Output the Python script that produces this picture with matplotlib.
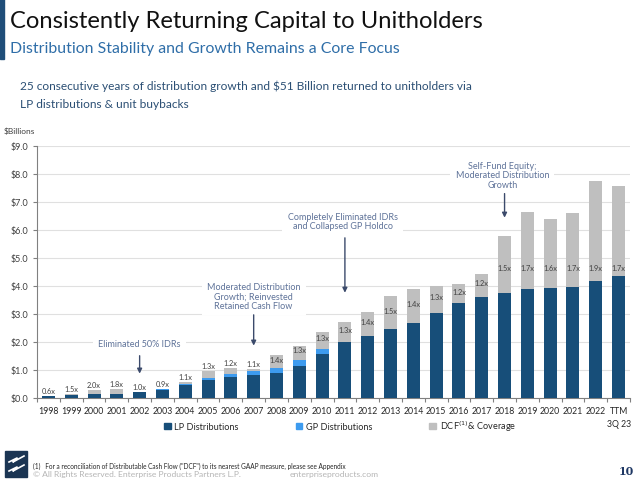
import matplotlib
matplotlib.use("Agg")
import matplotlib.pyplot as plt
from matplotlib.patches import Patch, Rectangle
import numpy as np

plt.rcParams['font.family'] = ['Lato', 'DejaVu Sans']

# ---- data ($ billions) ----
years = ['1998', '1999', '2000', '2001', '2002', '2003', '2004', '2005', '2006',
         '2007', '2008', '2009', '2010', '2011', '2012', '2013', '2014', '2015',
         '2016', '2017', '2018', '2019', '2020', '2021', '2022', 'TTM\n3Q 23']
lp = [0.06, 0.11, 0.13, 0.15, 0.21, 0.29, 0.46, 0.63, 0.76, 0.83, 0.90, 1.16, 1.57,
      2.00, 2.21, 2.45, 2.68, 3.02, 3.38, 3.62, 3.76, 3.88, 3.93, 3.98, 4.17, 4.34]
gp = [0.00, 0.01, 0.01, 0.01, 0.01, 0.02, 0.04, 0.10, 0.11, 0.13, 0.16, 0.20, 0.19,
      0.00, 0.00, 0.00, 0.00, 0.00, 0.00, 0.00, 0.00, 0.00, 0.00, 0.00, 0.00, 0.00]
dcf = [0.06, 0.15, 0.30, 0.31, 0.22, 0.33, 0.56, 0.95, 1.08, 1.03, 1.52, 1.87, 2.36,
       2.71, 3.07, 3.63, 3.89, 4.00, 4.06, 4.43, 5.80, 6.63, 6.40, 6.62, 7.75, 7.56]
coverage = ['0.6x', '1.5x', '2.0x', '1.8x', '1.0x', '0.9x', '1.1x', '1.3x', '1.2x',
            '1.1x', '1.4x', '1.3x', '1.3x', '1.3x', '1.4x', '1.5x', '1.4x', '1.3x',
            '1.2x', '1.2x', '1.5x', '1.7x', '1.6x', '1.7x', '1.9x', '1.7x']

notes = [
    ('Eliminated 50% IDRs', 4, 1.94, 1.51, 0.87),
    ('Moderated Distribution\nGrowth; Reinvested\nRetained Cash Flow', 9, 3.65, 2.97, 1.87),
    ('Completely Eliminated IDRs\nand Collapsed GP Holdco', 12.9, 6.31, 5.72, 3.76),
    ('Self-Fund Equity;\nModerated Distribution\nGrowth', 19.9, 7.97, 7.30, 6.44),
]

c_lp = '#174e79'
c_gp = '#3d9bef'
c_dcf = '#bfbfbf'
c_note = '#5f7399'

lp = np.array(lp)
gp = np.array(gp)
dcf = np.array(dcf)
rest = np.clip(dcf - lp - gp, 0, None)
x = np.arange(len(years))

fig = plt.figure(figsize=(6.4, 4.81), dpi=100)

# header
fig.patches.append(Rectangle((0, 1 - 60 / 481), 4 / 640, 60 / 481,
                             transform=fig.transFigure, color='#1f4e79'))
fig.text(10 / 640, 1 - 21 / 481, 'Consistently Returning Capital to Unitholders',
         fontsize=17.1, color='#111111', va='center')
fig.text(10 / 640, 1 - 49 / 481, 'Distribution Stability and Growth Remains a Core Focus',
         fontsize=11.4, color='#2f6ea8', va='center')
fig.text(20 / 640, 1 - 86 / 481,
         '25 consecutive years of distribution growth and $51 Billion returned to unitholders via',
         fontsize=8.6, color='#2b4f74', va='center')
fig.text(20 / 640, 1 - 104 / 481, 'LP distributions & unit buybacks',
         fontsize=8.6, color='#2b4f74', va='center')
fig.text(4 / 640, 1 - 131 / 481, '$Billions', fontsize=6, color='#404040', va='center')

ax = fig.add_axes([37 / 640, 1 - 399 / 481, 593 / 640, 252 / 481])
w = 0.57
ax.bar(x, lp, w, color=c_lp, zorder=3, label='LP Distributions')
ax.bar(x, gp, w, bottom=lp, color=c_gp, zorder=3, label='GP Distributions')
ax.bar(x, rest, w, bottom=lp + gp, color=c_dcf, zorder=3, label='DCF$^{(1)}$& Coverage')

for i in range(len(x)):
    top = lp[i] + gp[i] + rest[i]
    if i < 10:
        ax.text(x[i], top + 0.07, coverage[i], ha='center', va='bottom',
                fontsize=5.3, color='#404040', zorder=4)
    else:
        mid = (lp[i] + gp[i] + top) / 2
        yl = min(top - 0.15, mid + 0.1, 4.65)
        ax.text(x[i], yl, coverage[i], ha='center', va='center',
                fontsize=5.3, color='#404040', zorder=4)

for txt, xn, yt, y0, y1 in notes:
    ax.text(xn, yt, txt, ha='center', va='center', fontsize=6.5, color=c_note,
            linespacing=1.05, zorder=5,
            bbox=dict(boxstyle='square,pad=0.6', fc='white', ec='none'))
    ax.annotate('', xy=(round(xn), y1), xytext=(round(xn), y0), zorder=5,
                arrowprops=dict(arrowstyle='-|>', color='#3b4a6b', lw=1.0,
                                mutation_scale=7, shrinkA=0, shrinkB=0))

ax.set_xlim(-0.44, len(x) - 0.56)
ax.set_ylim(0, 9)
ax.set_yticks(np.arange(0, 9.5, 1.0))
ax.set_yticklabels(['$%.1f' % v for v in np.arange(0, 9.5, 1.0)], fontsize=6.5,
                   color='#404040')
ax.set_xticks(x)
ax.set_xticklabels(years, fontsize=6.3, color='#262626', linespacing=1.5, va='top')
ax.set_xticks(np.arange(-0.5, len(x), 1.0), minor=True)
ax.tick_params(axis='x', which='major', length=0, pad=6)
ax.tick_params(axis='x', which='minor', length=3, color='#808080', width=0.8)
ax.tick_params(axis='y', length=3, color='#808080', width=0.8, pad=3)
ax.grid(axis='y', color='#e0e0e0', lw=0.8, zorder=0)
for s in ['top', 'right']:
    ax.spines[s].set_visible(False)
for s in ['left', 'bottom']:
    ax.spines[s].set_color('#808080')
    ax.spines[s].set_linewidth(0.8)

handles = [Patch(color=c_lp), Patch(color=c_gp), Patch(color=c_dcf)]
fig.legend(handles, ['LP Distributions', 'GP Distributions', 'DCF$^{(1)}$& Coverage'],
           loc='center', bbox_to_anchor=(340 / 640, 1 - 427 / 481), ncol=3,
           frameon=False, fontsize=6.6, handlelength=0.75, handleheight=0.75,
           handletextpad=0.4, columnspacing=6.2, labelcolor='#262626')

# footer
fig.patches.append(Rectangle((5 / 640, 1 - 478 / 481), 22 / 640, 26 / 481,
                             transform=fig.transFigure, color='#1b3553'))
fig.add_artist(plt.Line2D([9 / 640, 17 / 640, 13 / 640, 24 / 640],
                          [1 - 463 / 481, 1 - 459 / 481, 1 - 463 / 481, 1 - 457 / 481],
                          transform=fig.transFigure, color='white', lw=1.2))
fig.add_artist(plt.Line2D([9 / 640, 17 / 640, 13 / 640, 24 / 640],
                          [1 - 472 / 481, 1 - 468 / 481, 1 - 472 / 481, 1 - 466 / 481],
                          transform=fig.transFigure, color='white', lw=1.2))
fig.text(33 / 640, 1 - 466 / 481,
         '(1)   For a reconciliation of Distributable Cash Flow ("DCF") to its nearest GAAP measure, please see Appendix',
         fontsize=4.7, color='#262626', va='center')
fig.text(33 / 640, 1 - 475 / 481, '\u00a9 All Rights Reserved. Enterprise Products Partners L.P.',
         fontsize=6.1, color='#b5b5b5', va='center')
fig.text(290 / 640, 1 - 475 / 481, 'enterpriseproducts.com',
         fontsize=6.1, color='#b5b5b5', va='center')
fig.text(634 / 640, 1 - 472 / 481, '10', fontsize=8, color='#1f3864', ha='right',
         va='center', family='DejaVu Serif', weight='bold')

fig.savefig('out.png', dpi=100)
